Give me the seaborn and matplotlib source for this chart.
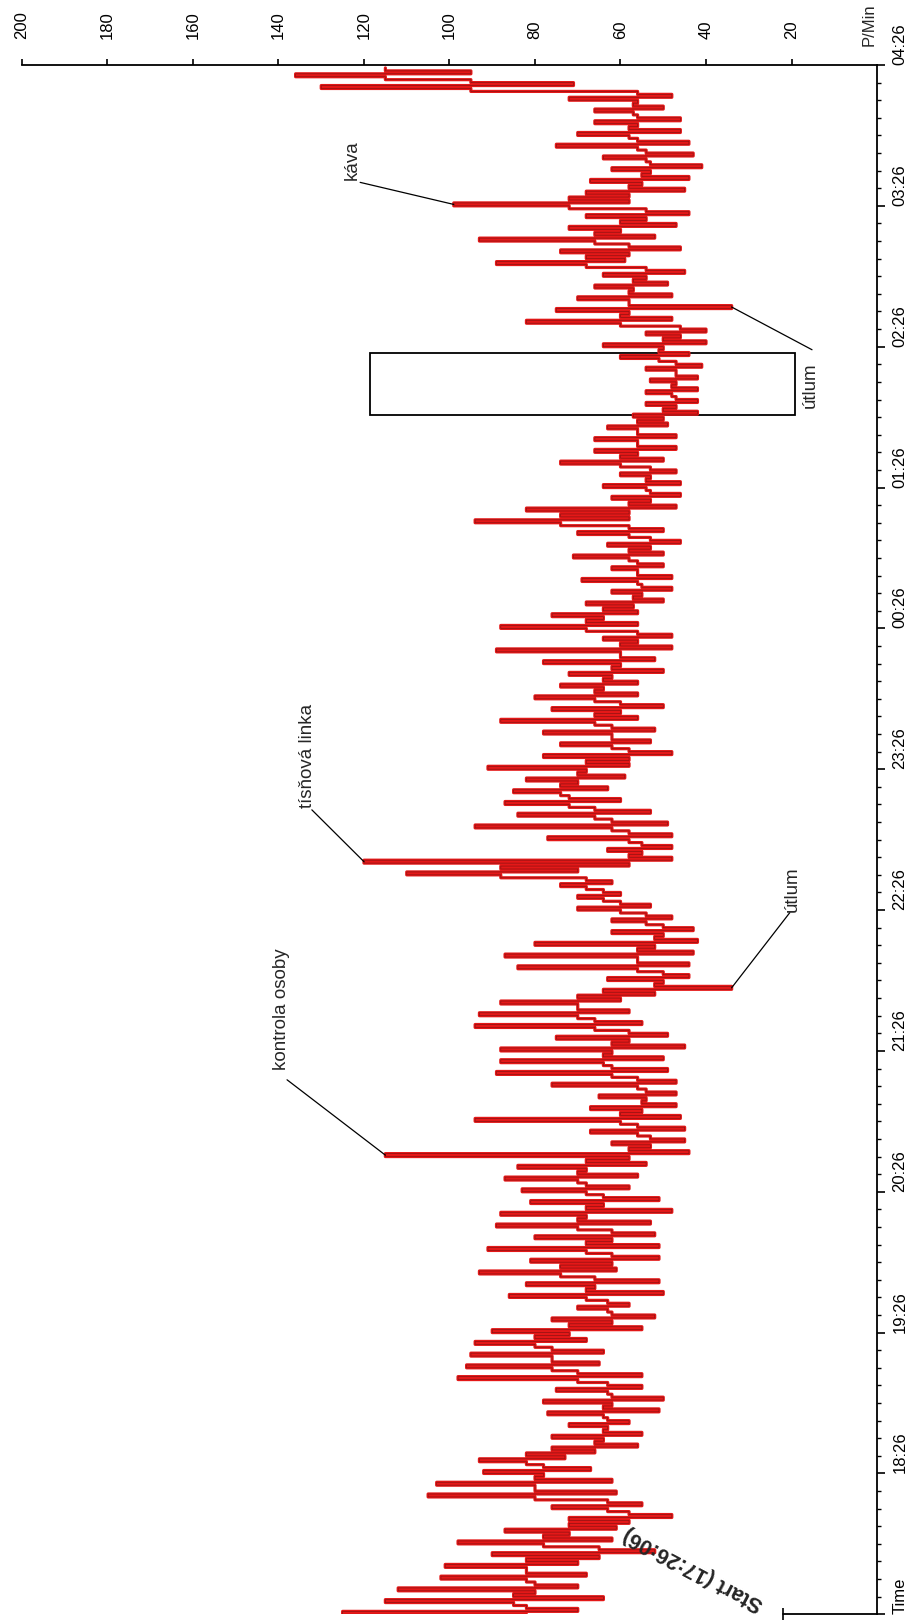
import matplotlib
matplotlib.use('Agg')
import matplotlib.pyplot as plt
from matplotlib.patches import Rectangle
import numpy as np
import pandas as pd
import seaborn as sns

# Heart rate (P/Min) per 5 minute block from 17:26 to 04:26:
# low end, high end and the typical (densest) value of each block
hr_low = [70, 64, 70, 68, 70, 52, 62, 61, 48, 55,
          61, 62, 67, 73, 56, 55, 58, 51, 50, 55,
          55, 65, 64, 68, 55, 52, 58, 50, 51, 61,
          51, 51, 52, 53, 48, 51, 58, 56, 54, 44,
          45, 45, 46, 47, 47, 47, 49, 50, 45, 49,
          55, 58, 60, 34, 44, 44, 43, 42, 43, 48,
          53, 60, 62, 70, 48, 48, 48, 49, 53, 60,
          63, 59, 58, 48, 53, 52, 56, 50, 56, 56,
          50, 52, 48, 48, 56, 56, 50, 48, 48, 50,
          50, 46, 50, 58, 47, 46, 46, 47, 50, 47,
          47, 49, 42, 42, 42, 42, 41, 44, 40, 40,
          48, 34, 48, 49, 45, 59, 46, 52, 47, 44,
          58, 45, 44, 41, 43, 44, 46, 46, 50, 48,
          71, 95]
hr_high = [125, 115, 112, 102, 101, 90, 98, 87, 72, 76,
           105, 103, 92, 93, 76, 76, 72, 77, 78, 75,
           98, 96, 95, 94, 90, 76, 70, 86, 82, 93,
           81, 91, 80, 89, 88, 81, 83, 87, 84, 115,
           62, 67, 94, 67, 65, 76, 89, 88, 88, 75,
           94, 93, 88, 64, 63, 84, 87, 80, 62, 62,
           70, 70, 74, 110, 120, 63, 77, 94, 84, 87,
           85, 82, 91, 78, 74, 78, 88, 76, 80, 74,
           72, 78, 89, 64, 88, 76, 68, 62, 69, 62,
           71, 63, 70, 94, 82, 62, 64, 60, 74, 66,
           66, 63, 57, 54, 54, 53, 54, 60, 64, 54,
           82, 75, 70, 66, 64, 89, 74, 93, 72, 68,
           99, 68, 67, 62, 64, 75, 70, 66, 66, 72,
           130, 136]
hr_typ = [82, 85, 80, 82, 82, 65, 78, 72, 58, 63,
          80, 80, 78, 82, 66, 64, 63, 64, 62, 63,
          70, 76, 76, 80, 72, 62, 63, 68, 66, 74,
          62, 68, 62, 70, 68, 64, 68, 70, 68, 58,
          53, 56, 60, 55, 54, 56, 62, 64, 62, 58,
          66, 70, 70, 52, 50, 56, 56, 52, 50, 54,
          60, 64, 68, 88, 58, 55, 58, 62, 66, 72,
          74, 70, 68, 58, 62, 62, 66, 60, 66, 64,
          62, 60, 60, 56, 68, 64, 57, 55, 56, 56,
          58, 53, 58, 74, 58, 53, 54, 53, 60, 56,
          56, 56, 50, 47, 48, 47, 47, 51, 50, 46,
          60, 58, 58, 57, 54, 68, 58, 66, 60, 54,
          72, 58, 55, 53, 54, 56, 58, 56, 57, 56,
          95, 115]
block_min = 5

rate_ticks = [200, 180, 160, 140, 120, 100, 80, 60, 40, 20]
time_labels = ['Time', '18:26', '19:26', '20:26', '21:26', '22:26', '23:26',
               '00:26', '01:26', '02:26', '03:26', '04:26']

# each block: typical -> high -> low -> typical
rows = []
for i, (lo, hi, ty) in enumerate(zip(hr_low, hr_high, hr_typ)):
    m0 = i * block_min
    rows += [(m0, ty), (m0 + 1.25, hi), (m0 + 2.5, lo), (m0 + 3.75, ty)]
df = pd.DataFrame(rows, columns=['minute', 'bpm'])

sns.set_theme(style='white')
plt.rcParams['font.family'] = ['Liberation Sans', 'DejaVu Sans']

fig = plt.figure(figsize=(9.17, 16.23), dpi=100)
ax = fig.add_axes([0.02399, 0.00536, 0.93239, 0.95459])

# horizontal strokes: value jumps at fixed time; red body, darker core
sns.lineplot(data=df, x='bpm', y='minute', orient='y', sort=False, estimator=None,
             color='#e41818', linewidth=2.3, drawstyle='steps-post', ax=ax)
sns.lineplot(data=df, x='bpm', y='minute', orient='y', sort=False, estimator=None,
             color='#8e1212', linewidth=0.5, drawstyle='steps-post', ax=ax)

ax.set_xlim(200, 0)
ax.set_ylim(0, len(hr_low) * block_min)
ax.set_xlabel('')
ax.set_ylabel('')

for side in ['left', 'bottom']:
    ax.spines[side].set_visible(False)
for side in ['top', 'right']:
    ax.spines[side].set_color('black')
    ax.spines[side].set_linewidth(1.3)

ax.xaxis.tick_top()
ax.set_xticks(rate_ticks)
ax.set_xticklabels([str(v) for v in rate_ticks], rotation=90, fontsize=12)
ax.tick_params(axis='x', which='major', direction='out', length=4.5, width=1.2,
               pad=14, colors='black', top=True, bottom=False)

ax.yaxis.tick_right()
ax.set_yticks(np.arange(0, 661, 60))
ax.set_yticklabels(time_labels, rotation=90, fontsize=12, va='bottom')
ax.set_yticks(np.arange(0, 661, 7.5), minor=True)
ax.tick_params(axis='y', which='major', direction='out', length=6, width=1.2,
               pad=5, colors='black', right=True, left=False)
ax.tick_params(axis='y', which='minor', direction='out', length=3, width=1.0,
               colors='black', right=True, left=False)

ax.annotate('P/Min', xy=(0, 660), xytext=(0, 14), textcoords='offset points',
            rotation=90, ha='right', va='bottom', fontsize=12)

# start marker
ax.plot([0, 22], [0, 0], color='black', lw=1.3, clip_on=False)
ax.plot([22], [0], marker='|', color='black', ms=9, mew=1.2, clip_on=False)
ax.text(27, 4.0, 'Start (17:26:06)', rotation=152, rotation_mode='anchor',
        ha='left', va='center', fontsize=15.5, fontweight='bold')

# labelled events: text, text pos, leader start, leader end on the trace
notes = [
    ('kontrola osoby', 139.2, 232, 138, 227.7, hr_high[39], 39 * block_min + 0.6),
    ('tísňová linka', 133.3, 343.6, 132.2, 342.7, hr_high[64], 64 * block_min + 0.6),
    ('útlum', 19.9, 299.3, 20.4, 298.9, hr_low[53], 53 * block_min + 1.9),
    ('útlum', 15.7, 514, 15.2, 538.7, hr_low[111], 111 * block_min + 1.9),
    ('káva', 122.8, 611.2, 120.9, 610, hr_high[120], 120 * block_min + 0.6),
]
for text, tx, ty, lx, ly, px, py in notes:
    ax.text(tx, ty, text, rotation=90, ha='center', va='bottom', fontsize=13.5)
    ax.plot([lx, px], [ly, py], color='black', lw=0.9)

ax.add_patch(Rectangle((19.2, 511), 99.4, 26.5, fill=False, edgecolor='black', lw=1.3))

fig.savefig('out.png', dpi=100)
